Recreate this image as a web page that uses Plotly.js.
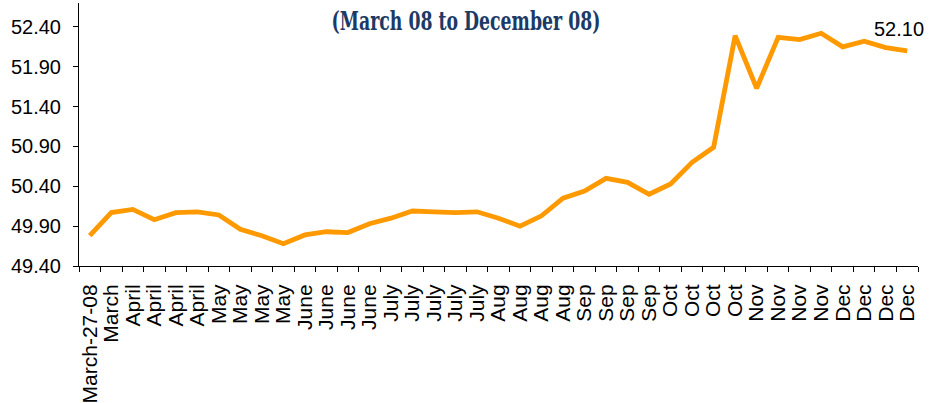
<!DOCTYPE html>
<html>
<head>
<meta charset="utf-8">
<script src="https://cdn.plot.ly/plotly-3.0.1.min.js"></script>
<style>html,body{margin:0;padding:0;background:#fff;}#chart{width:929px;height:403px;}
.gtitle{transform-box:fill-box;transform-origin:center;transform:scaleX(0.74);}</style>
</head>
<body>
<div id="chart"></div>
<script>
const labels = ["March-27-08","March","April","April","April","April","May","May","May","May",
  "June","June","June","June","July","July","July","July","July","Aug","Aug","Aug","Aug",
  "Sep","Sep","Sep","Sep","Oct","Oct","Oct","Oct","Nov","Nov","Nov","Nov","Dec","Dec","Dec","Dec"];
const values = [49.78,50.07,50.11,49.98,50.07,50.08,50.04,49.86,49.78,49.68,
  49.79,49.83,49.82,49.93,50.00,50.09,50.08,50.07,50.08,50.00,49.90,50.03,50.25,
  50.34,50.50,50.45,50.30,50.43,50.70,50.89,52.29,51.63,52.27,52.24,52.32,52.15,52.22,52.14,52.10];
const yTicks = [49.40,49.90,50.40,50.90,51.40,51.90,52.40];
const titleText = "(March 08 to December 08)";
const lastLabel = "52.10";

const idx = labels.map((_, i) => i);
const bounds = labels.map((_, i) => i - 0.5).concat([labels.length - 0.5]);

Plotly.newPlot('chart', [{
  x: idx, y: values, type: 'scatter', mode: 'lines',
  line: {color: '#FF9900', width: 4.8}, hoverinfo: 'skip'
}], {
  width: 929, height: 403,
  margin: {l: 79, r: 11, t: 3, b: 137},
  paper_bgcolor: '#fff', plot_bgcolor: '#fff',
  showlegend: false,
  font: {family: '"Liberation Sans", Arial, sans-serif', color: '#000'},
  title: {
    text: '<b>' + titleText + '</b>',
    font: {family: '"DejaVu Serif Condensed", "DejaVu Serif", serif', size: 26, color: '#1B3A66'},
    x: 466/929, xanchor: 'center', xref: 'container',
    y: 1 - 21/403, yanchor: 'middle', yref: 'container'
  },
  xaxis: {
    range: [-0.5, labels.length - 0.5],
    tickmode: 'array', tickvals: idx, ticktext: labels,
    tickangle: -90, ticks: '', showgrid: false, zeroline: false,
    showline: true, linecolor: '#000', linewidth: 1,
    tickfont: {size: 21, color: '#000'},
    ticklabelstandoff: 9,
    minor: {tickmode: 'array', tickvals: bounds, ticks: 'outside', ticklen: 5, tickcolor: '#000', tickwidth: 1, showgrid: false}
  },
  yaxis: {
    range: [49.4, 52.7],
    tickmode: 'array', tickvals: yTicks, tickformat: '.2f',
    ticks: 'outside', ticklen: 5, tickcolor: '#000',
    showgrid: false, zeroline: false,
    showline: true, linecolor: '#000', linewidth: 1,
    tickfont: {size: 20, color: '#000'},
    ticklabelstandoff: 8
  },
  annotations: [{
    x: labels.length - 1, y: values[values.length - 1], xref: 'x', yref: 'y',
    text: lastLabel, showarrow: false, xshift: -8, yshift: 22,
    font: {size: 20, color: '#000'}
  }]
}, {staticPlot: true});
</script>
</body>
</html>
